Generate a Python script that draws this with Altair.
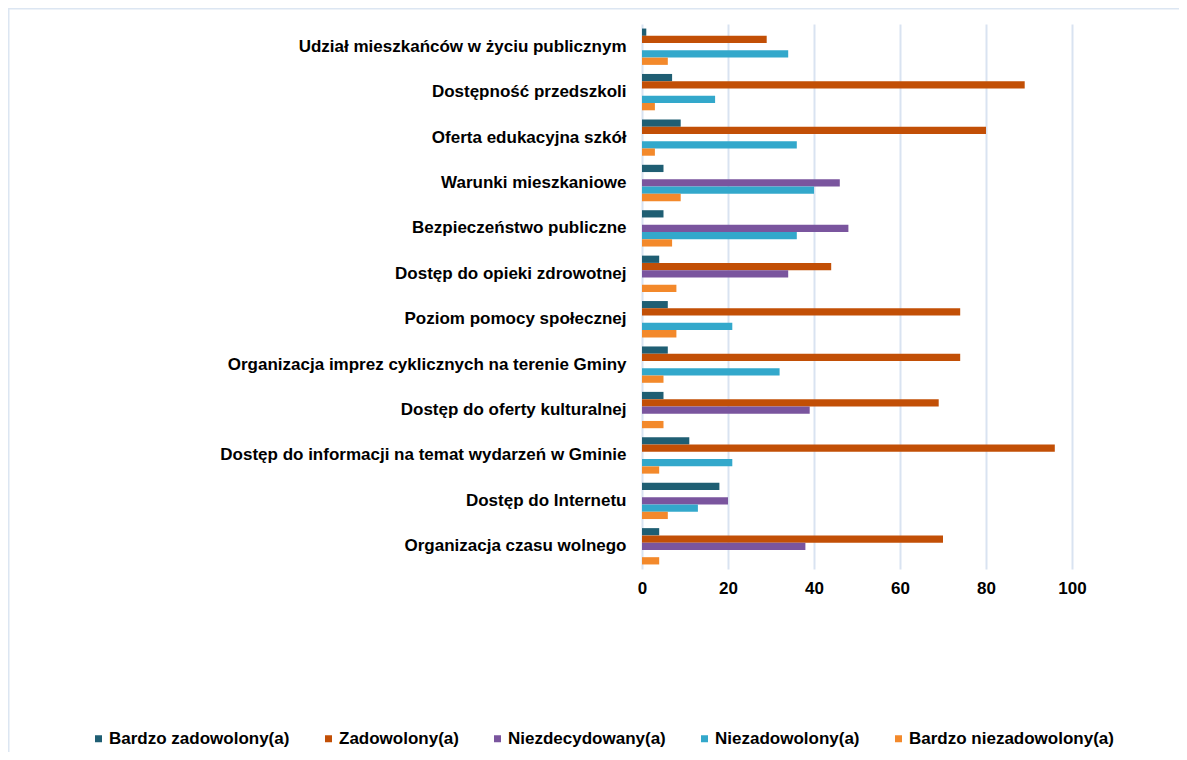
import altair as alt
import pandas as pd

categories = [
    "Udział mieszkańców w życiu publicznym",
    "Dostępność przedszkoli",
    "Oferta edukacyjna szkół",
    "Warunki mieszkaniowe",
    "Bezpieczeństwo publiczne",
    "Dostęp do opieki zdrowotnej ",
    "Poziom pomocy społecznej",
    "Organizacja imprez cyklicznych na terenie Gminy",
    "Dostęp do oferty kulturalnej ",
    "Dostęp do informacji na temat wydarzeń w Gminie",
    "Dostęp do Internetu",
    "Organizacja czasu wolnego ",
]

series = [
    "Bardzo zadowolony(a)",
    "Zadowolony(a)",
    "Niezdecydowany(a)",
    "Niezadowolony(a)",
    "Bardzo niezadowolony(a)",
]

bardzo_zadowolony = [1, 7, 9, 5, 5, 4, 6, 6, 5, 11, 18, 4]
zadowolony = [29, 89, 80, 0, 0, 44, 74, 74, 69, 96, 0, 70]
niezdecydowany = [0, 0, 0, 46, 48, 34, 0, 0, 39, 0, 20, 38]
niezadowolony = [34, 17, 36, 40, 36, 0, 21, 32, 0, 21, 13, 0]
bardzo_niezadowolony = [6, 3, 3, 9, 7, 8, 8, 5, 5, 4, 6, 4]

x_ticks = [0, 20, 40, 60, 80, 100]
colors = ["#1F5E73", "#C24F06", "#7A559E", "#33A8CB", "#F3892B"]

values = [bardzo_zadowolony, zadowolony, niezdecydowany, niezadowolony, bardzo_niezadowolony]
rows = []
for s, vals in zip(series, values):
    for c, v in zip(categories, vals):
        rows.append({"kategoria": c, "seria": s, "wartosc": v})
df = pd.DataFrame(rows)

FONT = "Liberation Sans"

bars = alt.Chart(df).mark_bar().encode(
    y=alt.Y(
        "kategoria:N",
        sort=categories,
        scale=alt.Scale(paddingInner=0.2, paddingOuter=0.1),
        axis=alt.Axis(
            title=None, ticks=False, domain=False, labelFont=FONT,
            labelFontSize=17, labelFontWeight="bold", labelColor="#000000",
            labelPadding=16, labelLimit=0,
        ),
    ),
    yOffset=alt.YOffset("seria:N", sort=series, scale=alt.Scale(paddingInner=0, paddingOuter=0)),
    x=alt.X(
        "wartosc:Q",
        scale=alt.Scale(domain=[0, 100], nice=False),
        axis=alt.Axis(
            values=x_ticks, title=None, grid=True, gridColor="#D9E3F1", gridWidth=2,
            domain=False, ticks=False, labelFont=FONT, labelFontSize=17,
            labelFontWeight="bold", labelColor="#000000", labelPadding=11,
            labelFlush=False,
        ),
    ),
    color=alt.Color(
        "seria:N",
        sort=series,
        scale=alt.Scale(domain=series, range=colors),
        legend=alt.Legend(
            title=None, orient="none", legendX=-552, legendY=706, direction="horizontal",
            symbolType="square", symbolSize=49, symbolStrokeWidth=0,
            labelFont=FONT, labelFontSize=17, labelFontWeight="bold", labelColor="#000000",
            labelOffset=2, columnPadding=30, labelLimit=0,
        ),
    ),
)

frame_df = pd.DataFrame({"k": [0]})
left_line = alt.Chart(frame_df).mark_rule(color="#DCE6F2", strokeWidth=3).encode(
    x=alt.value(-634), y=alt.value(-16), y2=alt.value(728)
)
top_line = alt.Chart(frame_df).mark_rule(color="#DCE6F2", strokeWidth=3).encode(
    x=alt.value(-634), x2=alt.value(537), y=alt.value(-16)
)

chart = alt.layer(bars, left_line, top_line).properties(
    width=430, height=545,
    autosize=alt.AutoSizeParams(type="none"),
    padding={"left": 634, "top": 16, "right": 107, "bottom": 183},
    background="white",
).configure_view(stroke=None)

chart.save("out.html", embed_options={"renderer": "svg", "actions": False})
